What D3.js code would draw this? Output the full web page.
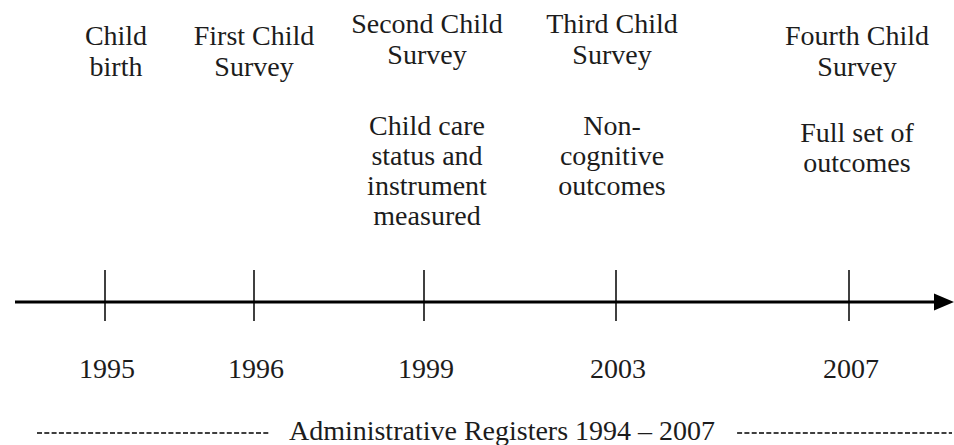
<!DOCTYPE html>
<html>
<head>
<meta charset="utf-8">
<script src="https://cdn.jsdelivr.net/npm/d3@7"></script>
<style>
  html, body { margin: 0; padding: 0; background: #fff; }
  svg { display: block; font-family: "Liberation Serif"; }
</style>
</head>
<body>
<svg id="chart" width="954" height="445" font-family="Liberation Serif"></svg>
<script>
// ---- data ----
const years = [1995, 1996, 1999, 2003, 2007];
const eventTitles = [
  ["Child", "birth"],
  ["First Child", "Survey"],
  ["Second Child", "Survey"],
  ["Third Child", "Survey"],
  ["Fourth Child", "Survey"]
];
const eventDetails = [
  [],
  [],
  ["Child care", "status and", "instrument", "measured"],
  ["Non-", "cognitive", "outcomes"],
  ["Full set of", "outcomes"]
];
const registerLabel = "Administrative Registers 1994 \u2013 2007";

// ---- layout ----
const axisY = 302;
const TXT = "#1c1c1c";
const fs = 28;
const svg = d3.select("#chart");

// timeline positions (the original figure is not drawn to scale in years)
const x = d3.scaleLinear()
  .domain(years)
  .range([105, 254, 424, 616, 849]);

const titleShift = [11, 0, 3, -4, 8];
const titleTop = [45, 45, 33, 33, 45];
const detailTop = [0, 0, 135, 135, 142];

function txt(sel) {
  return sel
    .attr("font-family", "Liberation Serif")
    .style("font-family", '"Liberation Serif"')
    .attr("fill", TXT)
    .attr("font-size", fs)
    .attr("text-anchor", "middle");
}

// axis line
svg.append("line")
  .attr("x1", 15).attr("x2", 936)
  .attr("y1", axisY).attr("y2", axisY)
  .attr("stroke", "#000").attr("stroke-width", 3);
// arrow head
svg.append("path")
  .attr("d", d3.line()([[934, axisY - 8.5], [954, axisY], [934, axisY + 8.5]]) + "Z")
  .attr("fill", "#000");

// ticks
svg.selectAll("line.tick").data(years).join("line")
  .attr("class", "tick")
  .attr("x1", d => x(d)).attr("x2", d => x(d))
  .attr("y1", axisY - 32).attr("y2", axisY + 19)
  .attr("stroke", "#000").attr("stroke-width", 1.5);

// year labels
txt(svg.selectAll("text.year").data(years).join("text"))
  .attr("class", "year")
  .attr("x", d => x(d) + 2)
  .attr("y", 378)
  .text(d => d);

// titles and details: one text element per line
const titleLines = [];
const detailLines = [];
years.forEach((yr, i) => {
  eventTitles[i].forEach((line, j) => titleLines.push({ yr, i, j, line }));
  eventDetails[i].forEach((line, j) => detailLines.push({ yr, i, j, line }));
});

txt(svg.selectAll("text.title").data(titleLines).join("text"))
  .attr("class", "title")
  .attr("x", d => x(d.yr) + titleShift[d.i])
  .attr("y", d => titleTop[d.i] + d.j * 31)
  .text(d => d.line);

txt(svg.selectAll("text.detail").data(detailLines).join("text"))
  .attr("class", "detail")
  .attr("x", d => x(d.yr) + titleShift[d.i])
  .attr("y", d => detailTop[d.i] + d.j * 30)
  .text(d => d.line);

// administrative registers line
const regY = 433;
const reg = txt(svg.append("text"))
  .attr("x", 502).attr("y", 440)
  .text(registerLabel);
const bb = reg.node().getBBox();
svg.append("line")
  .attr("x1", 37).attr("x2", bb.x - 20)
  .attr("y1", regY).attr("y2", regY)
  .attr("stroke", "#000").attr("stroke-width", 1.5)
  .attr("stroke-dasharray", "5,2.3");
svg.append("line")
  .attr("x1", bb.x + bb.width + 22).attr("x2", 952)
  .attr("y1", regY).attr("y2", regY)
  .attr("stroke", "#000").attr("stroke-width", 1.5)
  .attr("stroke-dasharray", "5,2.3");
</script>
</body>
</html>
